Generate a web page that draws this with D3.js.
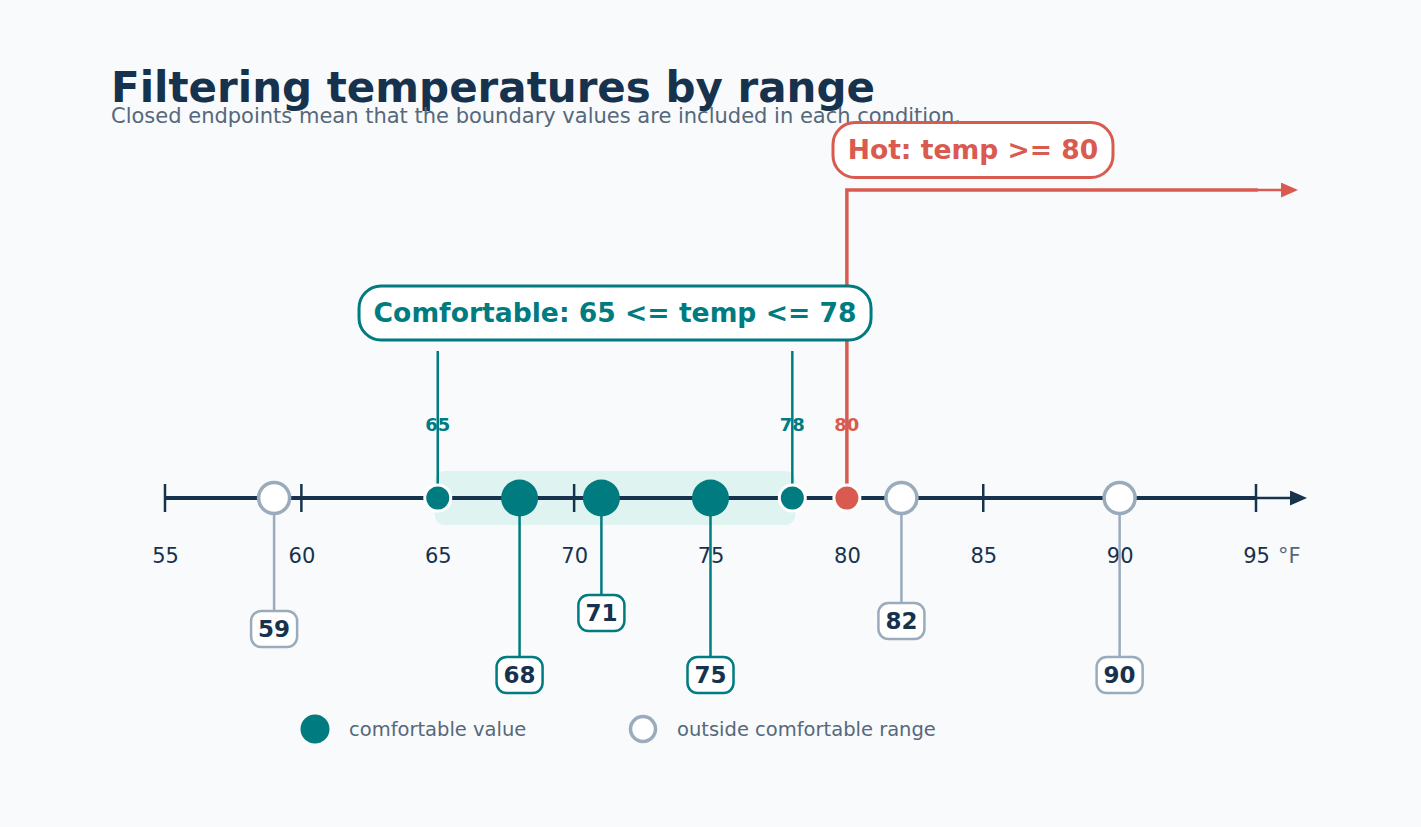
<!DOCTYPE html>
<html>
<head>
<meta charset="utf-8">
<script src="https://cdn.jsdelivr.net/npm/d3@7"></script>
<style>
  body { margin: 0; background: #f8fafc; }
  svg { display: block; font-family: "DejaVu Sans", sans-serif; }
</style>
</head>
<body>
<div id="chart"></div>
<script>
// Datos
const temps = [59, 68, 71, 75, 82, 90];
const comfortRange = [65, 78];
const hotMin = 80;
const tickValues = [55, 60, 65, 70, 75, 80, 85, 90, 95];

// Colores
const navy = "#17324d";
const teal = "#007b7f";
const red = "#d95b50";
const gray = "#9aabbc";
const muted = "#56687a";

const width = 1421, height = 827;
const axisY = 498;

// Distancia de cada etiqueta bajo el eje (solo diseño)
const labelDrop = [131, 177, 115, 177, 123, 177];

const x = d3.scaleLinear().domain([55, 95]).range([165, 1256]);

const svg = d3.select("#chart").append("svg")
  .attr("width", width).attr("height", height);

svg.append("rect").attr("width", width).attr("height", height).attr("fill", "#f8fafc");

const defs = svg.append("defs");
function arrow(id, color) {
  defs.append("marker").attr("id", id)
    .attr("viewBox", "0 0 10 10").attr("refX", 0).attr("refY", 5)
    .attr("markerWidth", 17).attr("markerHeight", 15).attr("orient", "auto")
    .attr("markerUnits", "userSpaceOnUse").attr("preserveAspectRatio", "none")
    .append("path").attr("d", "M0,0 L10,5 L0,10 z").attr("fill", color);
}
arrow("arrowNavy", navy);
arrow("arrowRed", red);

// Título
svg.append("text").attr("x", 111).attr("y", 102)
  .attr("font-size", 42).attr("font-weight", "bold").attr("fill", navy)
  .text("Filtering temperatures by range");
svg.append("text").attr("x", 111).attr("y", 123)
  .attr("font-size", 21).attr("fill", muted)
  .text("Closed endpoints mean that the boundary values are included in each condition.");

// Banda confortable
svg.append("rect")
  .attr("x", x(comfortRange[0]) - 3).attr("y", axisY - 27)
  .attr("width", x(comfortRange[1]) - x(comfortRange[0]) + 6).attr("height", 54)
  .attr("rx", 10).attr("fill", "#dff3f1");

// Eje
svg.append("line")
  .attr("x1", x(55)).attr("x2", x(95)).attr("y1", axisY).attr("y2", axisY)
  .attr("stroke", navy).attr("stroke-width", 4);
svg.append("line")
  .attr("x1", x(95)).attr("x2", x(95) + 34).attr("y1", axisY).attr("y2", axisY)
  .attr("stroke", navy).attr("stroke-width", 2.5)
  .attr("marker-end", "url(#arrowNavy)");

const axis = d3.axisBottom(x).tickValues(tickValues).tickSize(0).tickPadding(0);
const gAxis = svg.append("g").attr("transform", `translate(0,${axisY})`).call(axis);
gAxis.select(".domain").remove();
gAxis.selectAll("text")
  .attr("y", 65).attr("dy", 0)
  .attr("font-size", 21).attr("fill", navy)
  .attr("font-family", "DejaVu Sans, sans-serif");

svg.selectAll(".tick-mark").data(tickValues).enter().append("line")
  .attr("class", "tick-mark")
  .attr("x1", d => x(d)).attr("x2", d => x(d))
  .attr("y1", axisY - 14).attr("y2", axisY + 14)
  .attr("stroke", navy).attr("stroke-width", 2.5);

svg.append("text").attr("x", x(95) + 22).attr("y", axisY + 65)
  .attr("font-size", 21).attr("fill", muted).text("°F");

// Regla caliente
svg.append("path")
  .attr("d", `M${x(hotMin)},${axisY - 13} V190 H${x(95) + 2}`)
  .attr("fill", "none").attr("stroke", red).attr("stroke-width", 3.5);
svg.append("line")
  .attr("x1", x(95) + 2).attr("x2", x(95) + 25).attr("y1", 190).attr("y2", 190)
  .attr("stroke", red).attr("stroke-width", 2.5)
  .attr("marker-end", "url(#arrowRed)");

// Líneas de los extremos confortables
svg.selectAll(".endline").data(comfortRange).enter().append("line")
  .attr("class", "endline")
  .attr("x1", d => x(d)).attr("x2", d => x(d))
  .attr("y1", 351).attr("y2", axisY - 12)
  .attr("stroke", teal).attr("stroke-width", 2.5);

// Etiquetas de extremos
const endpoints = comfortRange.concat([hotMin]);
svg.selectAll(".endlabel").data(endpoints).enter().append("text")
  .attr("class", "endlabel")
  .attr("x", d => x(d)).attr("y", 431)
  .attr("text-anchor", "middle").attr("font-size", 18).attr("font-weight", "bold")
  .attr("fill", d => d === hotMin ? red : teal)
  .text(d => d);

// Cajas de reglas
function ruleBox(cx, cy, w, h, color, label) {
  svg.append("rect").attr("x", cx - w / 2).attr("y", cy - h / 2)
    .attr("width", w).attr("height", h).attr("rx", 22)
    .attr("fill", "white").attr("stroke", color).attr("stroke-width", 3);
  svg.append("text").attr("x", cx).attr("y", cy).attr("dy", "0.35em")
    .attr("text-anchor", "middle").attr("font-size", 26.6).attr("font-weight", "bold")
    .attr("fill", color).text(label);
}
ruleBox((x(comfortRange[0]) + x(comfortRange[1])) / 2, 313, 512, 54, teal,
  `Comfortable: ${comfortRange[0]} <= temp <= ${comfortRange[1]}`);
ruleBox(973, 150, 280, 55, red, `Hot: temp >= ${hotMin}`);

// Puntos extremos (cerrados)
svg.selectAll(".endpoint").data(endpoints).enter().append("circle")
  .attr("class", "endpoint")
  .attr("cx", d => x(d)).attr("cy", axisY).attr("r", 13)
  .attr("fill", d => d === hotMin ? red : teal)
  .attr("stroke", "white").attr("stroke-width", 3);

const inComfort = d => d >= comfortRange[0] && d <= comfortRange[1];

// Tallos y etiquetas de valores
const vals = svg.selectAll(".val").data(temps).enter().append("g").attr("class", "val");
vals.append("line")
  .attr("x1", d => x(d)).attr("x2", d => x(d))
  .attr("y1", axisY).attr("y2", (d, i) => axisY + labelDrop[i] - 18)
  .attr("stroke", d => inComfort(d) ? teal : gray).attr("stroke-width", 2.5);
vals.append("circle")
  .attr("cx", d => x(d)).attr("cy", axisY)
  .attr("r", d => inComfort(d) ? 18.5 : 15.5)
  .attr("fill", d => inComfort(d) ? teal : "white")
  .attr("stroke", d => inComfort(d) ? "none" : gray)
  .attr("stroke-width", 3.5);
vals.append("rect")
  .attr("x", d => x(d) - 23).attr("y", (d, i) => axisY + labelDrop[i] - 18)
  .attr("width", 46).attr("height", 36).attr("rx", 10)
  .attr("fill", "white")
  .attr("stroke", d => inComfort(d) ? teal : gray).attr("stroke-width", 2.5);
vals.append("text")
  .attr("x", d => x(d)).attr("y", (d, i) => axisY + labelDrop[i])
  .attr("dy", "0.36em").attr("text-anchor", "middle")
  .attr("font-size", 23).attr("font-weight", "bold").attr("fill", navy)
  .text(d => d);

// Leyenda
const legend = [
  { label: "comfortable value", fill: teal, stroke: "none", r: 14.5, x: 315 },
  { label: "outside comfortable range", fill: "white", stroke: gray, r: 12.5, x: 643 }
];
const lg = svg.selectAll(".legend").data(legend).enter().append("g").attr("class", "legend");
lg.append("circle").attr("cx", d => d.x).attr("cy", 729).attr("r", d => d.r)
  .attr("fill", d => d.fill).attr("stroke", d => d.stroke).attr("stroke-width", 3.5);
lg.append("text").attr("x", d => d.x + 34).attr("y", 729).attr("dy", "0.35em")
  .attr("font-size", 19.5).attr("fill", muted).text(d => d.label);
</script>
</body>
</html>
